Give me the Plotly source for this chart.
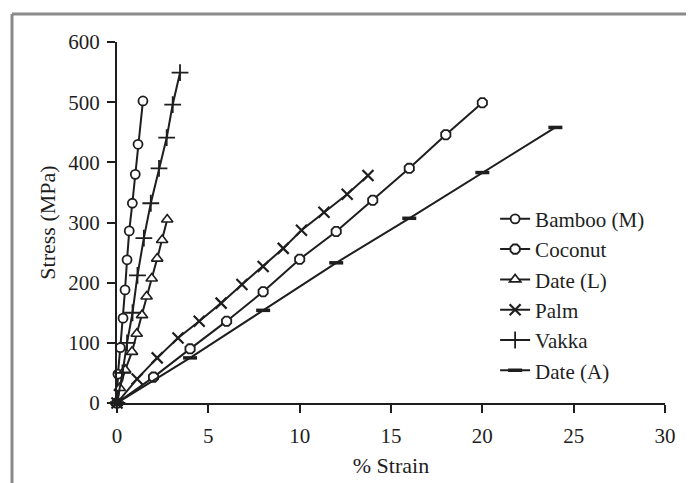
import plotly.graph_objects as go

# Data (strain %, stress MPa)
bamboo_x = [0, 0.05, 0.18, 0.33, 0.44, 0.55, 0.67, 0.84, 1.0, 1.15, 1.42]
bamboo_y = [0, 48, 92, 141, 188, 238, 286, 332, 380, 430, 502]

coconut_x = [0, 2, 4, 6, 8, 10, 12, 14, 16, 18, 20]
coconut_y = [0, 43, 90, 136, 185, 239, 285, 337, 390, 446, 499]

dateL_x = [0, 0.15, 0.45, 0.82, 1.08, 1.37, 1.62, 1.9, 2.2, 2.47, 2.75]
dateL_y = [0, 25, 55, 85, 115, 146, 177, 207, 240, 271, 305]

palm_x = [0, 1.1, 2.2, 3.34, 4.5, 5.7, 6.84, 8.0, 9.1, 10.1, 11.33, 12.6, 13.74]
palm_y = [0, 40, 75, 108, 136, 166, 197, 227, 257, 287, 317, 347, 378]

vakka_x = [0, 0.3, 0.55, 0.85, 1.12, 1.47, 1.85, 2.3, 2.72, 3.05, 3.45]
vakka_y = [0, 50, 100, 150, 212, 274, 332, 390, 441, 496, 549]

dateA_x = [0, 4, 8, 12, 16, 20, 24]
dateA_y = [0, 75, 154, 233, 307, 383, 458]

x_ticks = [0, 5, 10, 15, 20, 25, 30]
y_ticks = [0, 100, 200, 300, 400, 500, 600]

FONT = "Liberation Serif"
INK = "#1e1e1e"

series = [
    ("Bamboo (M)", bamboo_x, bamboo_y, "circle", 9, "white", 1.8),
    ("Coconut", coconut_x, coconut_y, "octagon", 10, "white", 1.8),
    ("Date (L)", dateL_x, dateL_y, "triangle-up", 10, "white", 1.6),
    ("Palm", palm_x, palm_y, "x-thin", 11, INK, 2.2),
    ("Vakka", vakka_x, vakka_y, "cross-thin", 12, INK, 1.8),
    ("Date (A)", dateA_x, dateA_y, "line-ew", 10, INK, 3.5),
]

fig = go.Figure()
for name, xs, ys, sym, size, fill, lw in series:
    fig.add_trace(go.Scatter(
        x=xs, y=ys, name=name, mode="lines+markers",
        line=dict(color=INK, width=2),
        marker=dict(symbol=sym, size=size, color=fill,
                    line=dict(color=INK, width=lw)),
        cliponaxis=False,
    ))

axis_common = dict(
    showline=True, linecolor=INK, linewidth=2,
    ticks="outside", ticklen=8, tickwidth=2, tickcolor=INK,
    showgrid=False, zeroline=False, automargin=False,
    tickfont=dict(family=FONT, size=21, color=INK),
    title_font=dict(family=FONT, size=22, color=INK),
)

fig.update_xaxes(range=[0, 30], tickvals=x_ticks, ticktext=[str(v) for v in x_ticks],
                 title_text="% Strain", title_standoff=10, ticklabelstandoff=5,
                 **axis_common)
fig.update_yaxes(range=[0, 600], tickvals=y_ticks, ticktext=[str(v) for v in y_ticks],
                 title_text="Stress (MPa)", title_standoff=7, ticklabelstandoff=3,
                 **axis_common)

# gray outer frame (top and left edges); plot area is 548 x 361 px
fx = (4 - 109) / 548.0
fy = 1 + (34 - 6) / 361.0
fig.add_shape(type="line", xref="paper", yref="paper",
              x0=fx, x1=1.06, y0=fy, y1=fy,
              line=dict(color="#8a8a8a", width=3))
fig.add_shape(type="line", xref="paper", yref="paper",
              x0=fx, x1=fx, y0=fy, y1=-0.23,
              line=dict(color="#8a8a8a", width=3))

# page body adds an 8px offset, so the figure is 8px smaller on each origin side
fig.update_layout(
    width=686, height=475,
    margin=dict(l=109, r=29, t=34, b=80),
    paper_bgcolor="white", plot_bgcolor="white",
    font=dict(family=FONT, size=21, color=INK),
    showlegend=True,
    legend=dict(x=0.69, y=0.566, xanchor="left", yanchor="top",
                bgcolor="rgba(0,0,0,0)", font=dict(family=FONT, size=21, color=INK),
                tracegroupgap=0, itemwidth=30),
)

fig.write_html("out.html")
